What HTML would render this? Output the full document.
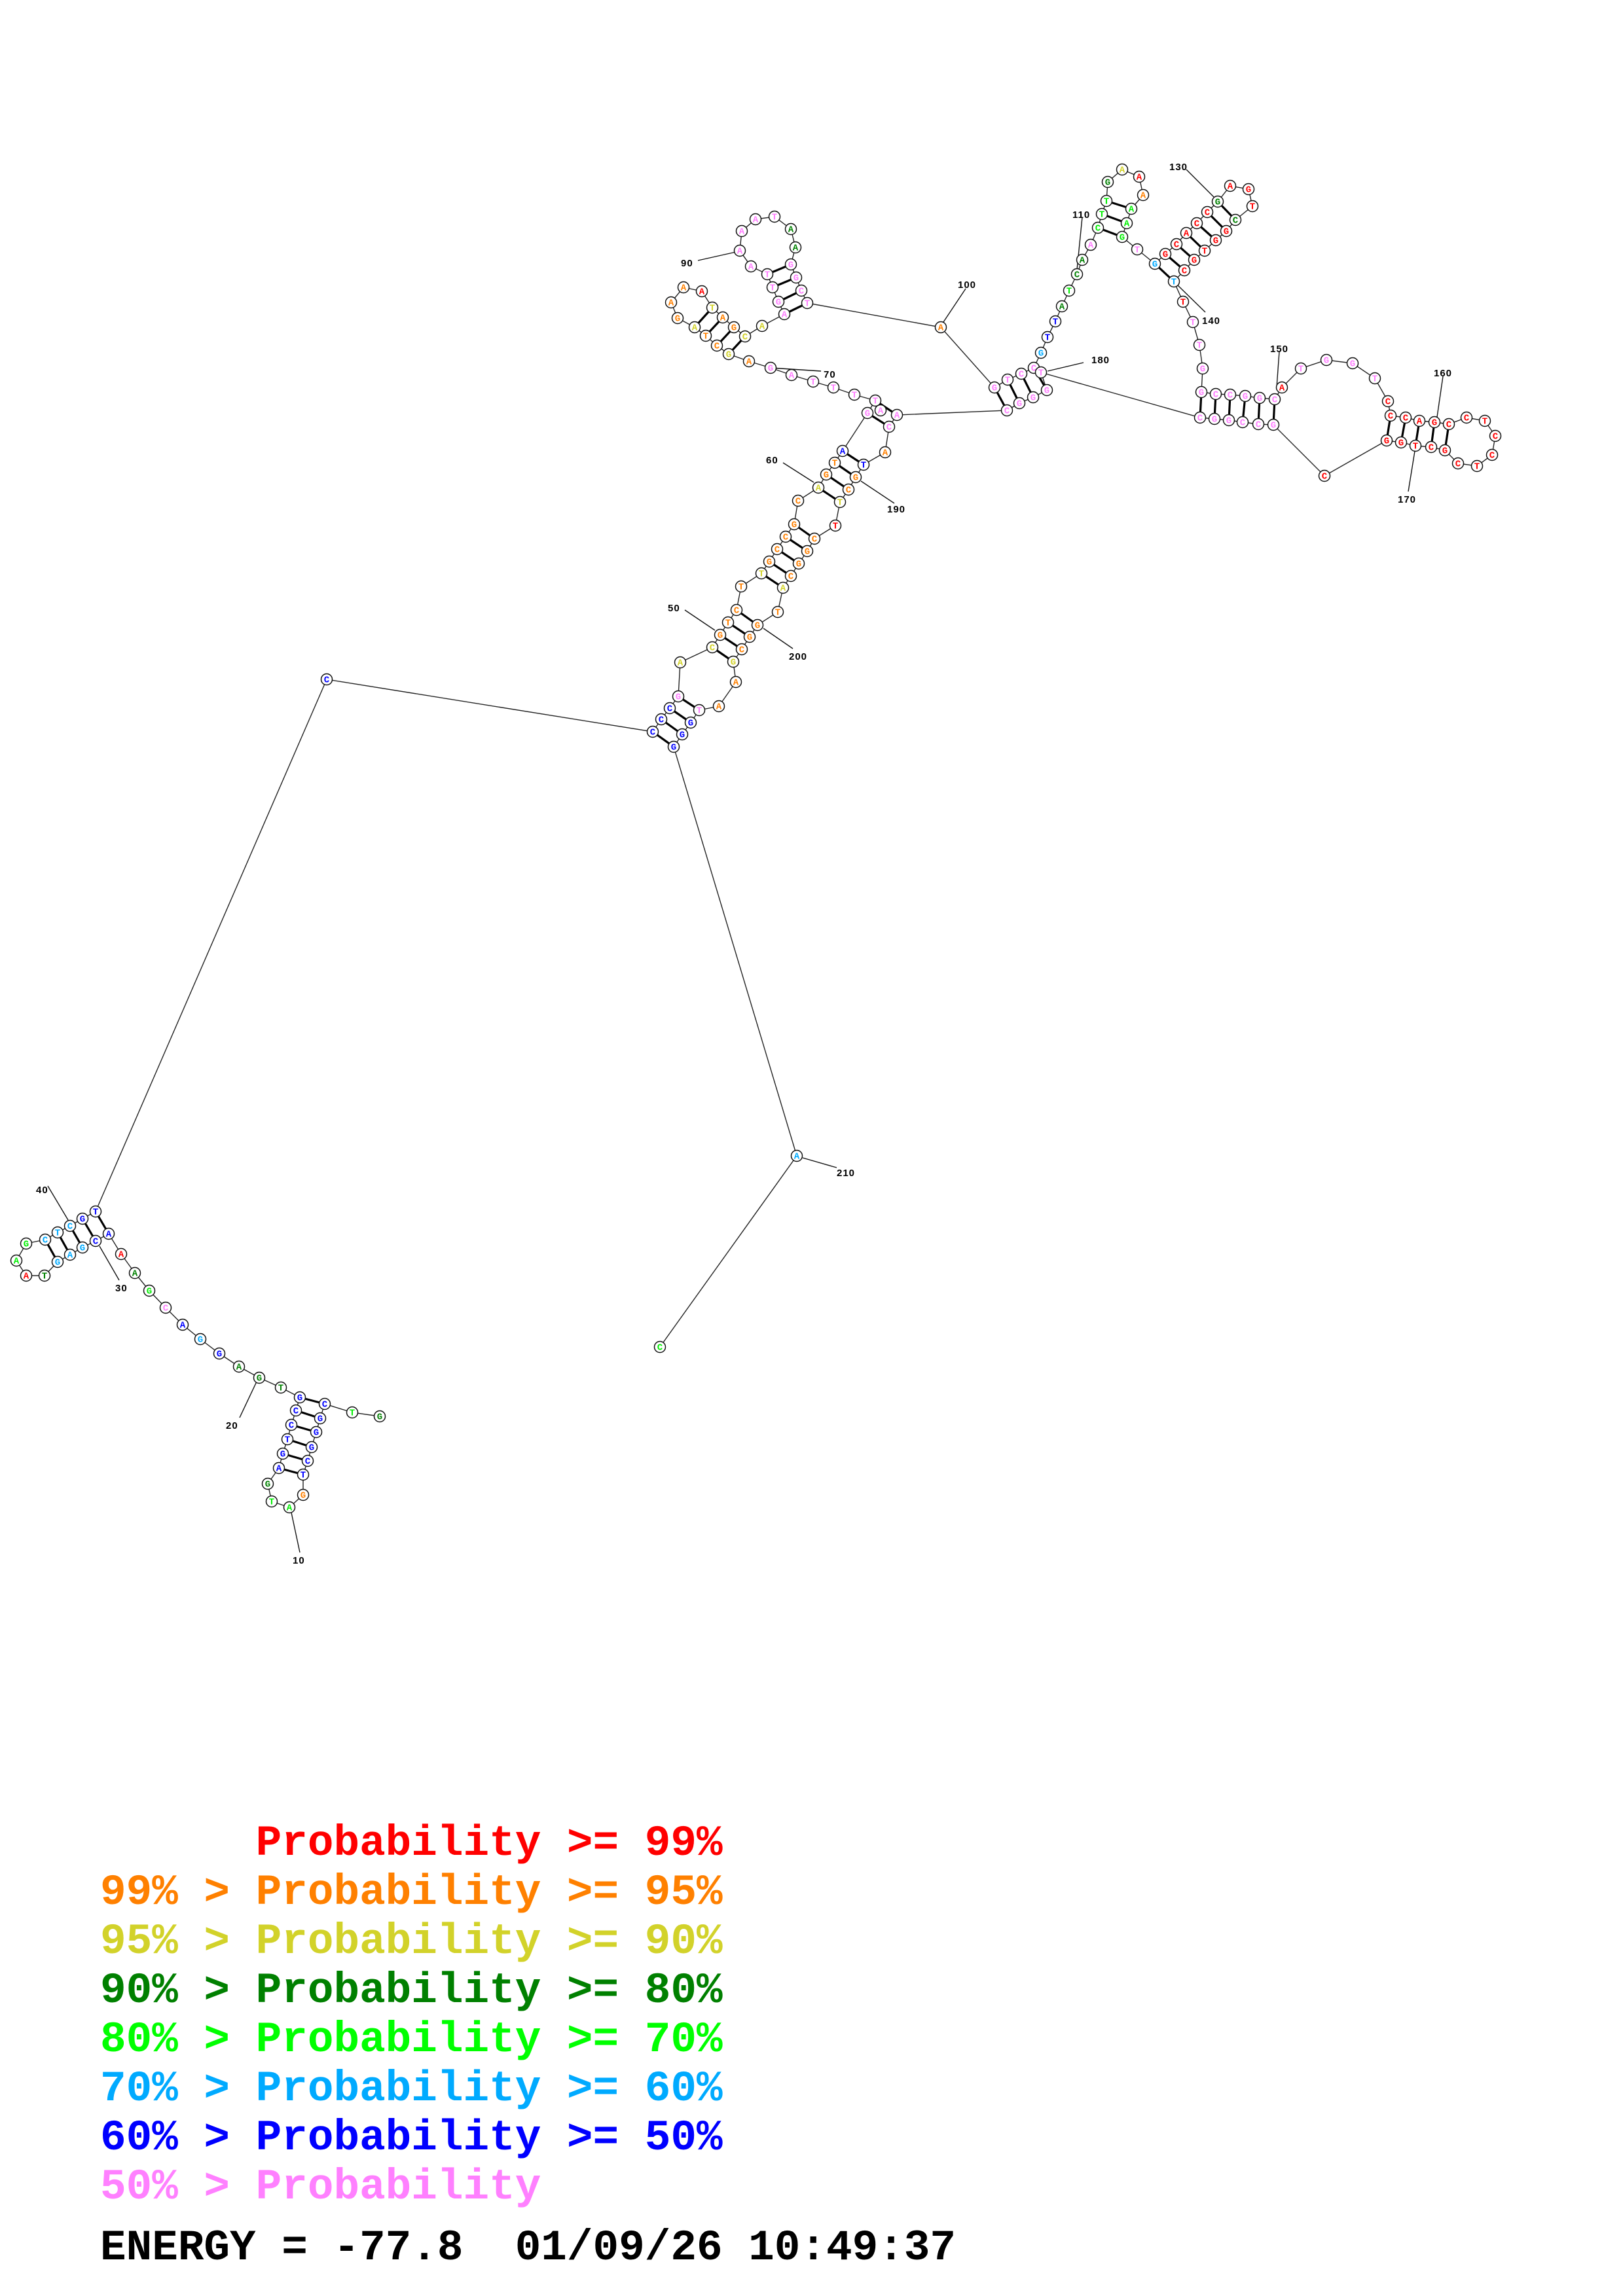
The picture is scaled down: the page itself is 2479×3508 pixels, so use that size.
<!DOCTYPE html>
<html><head><meta charset="utf-8"><style>
html,body{margin:0;padding:0;background:#fff}
svg{display:block}
.bb{fill:none;stroke:#222;stroke-width:1.4}
.pr line{stroke:#000;stroke-width:3.2}
.tk line{stroke:#111;stroke-width:1.4}
.nd circle{fill:#fff;stroke:#111;stroke-width:1.5}
.nd text{font-family:"Liberation Mono",monospace;font-weight:bold;font-size:14px;text-anchor:middle}
.lb text{font-family:"Liberation Sans",sans-serif;font-weight:bold;font-size:15px;fill:#000;letter-spacing:1px}
.R{fill:#ff0000}.O{fill:#ff8000}.Y{fill:#d2d22a}.D{fill:#008000}.G{fill:#00ee00}.C{fill:#00aaff}.B{fill:#0000ff}.P{fill:#ff80ff}
.lg{font-family:"Liberation Mono",monospace;font-weight:bold;font-size:66px;white-space:pre}
</style></head><body>
<svg width="2479" height="3508" viewBox="0 0 2479 3508" xmlns="http://www.w3.org/2000/svg">
<polyline class="bb" points="580,2164 538,2158 496,2145 489,2167 483,2188 476,2211 470,2232 463,2253 463,2284 442,2303 415,2294 409,2267 426,2243 432,2221 439,2199 445,2177 452,2155 458,2135 429,2120 396,2105 365,2088 335,2068 306,2046 279,2024 253,1998 228,1972 206,1945 185,1916 166,1885 146,1896 126,1906 107,1917 88,1928 68,1949 40,1949 25,1926 40,1900 69,1894 88,1883 107,1873 126,1862 146,1851 499,1038 997,1118 1010,1099 1023,1082 1036,1064 1039,1012 1088,989 1100,970 1112,951 1125,932 1132,896 1163,876 1175,858 1187,839 1200,820 1213,801 1219,765 1250,745 1262,725 1275,707 1287,689 1325,631 1337,612 1305,603 1273,592 1242,583 1209,573 1177,562 1144,552 1113,541 1095,528 1078,513 1061,500 1035,486 1025,462 1044,439 1072,445 1088,470 1104,485 1121,500 1138,514 1164,498 1198,480 1189,461 1180,439 1172,419 1147,407 1130,383 1133,353 1154,335 1183,331 1208,350 1215,378 1208,404 1216,424 1224,444 1233,463 1437,500 1519,592 1539,580 1560,571 1579,562 1590,539 1600,515 1612,491 1622,468 1633,444 1645,419 1653,397 1666,374 1677,348 1683,327 1690,307 1692,278 1714,259 1740,270 1746,298 1728,319 1721,341 1714,362 1737,381 1764,403 1780,388 1797,373 1812,356 1828,341 1844,324 1860,308 1879,284 1907,289 1913,315 1887,336 1873,353 1857,367 1840,383 1824,397 1809,413 1793,430 1807,461 1822,492 1832,527 1837,563 1835,599 1857,602 1879,603 1902,605 1924,608 1947,610 1958,592 1987,563 2026,550 2066,555 2100,578 2120,613 2124,635 2147,638 2168,643 2191,645 2213,648 2240,638 2268,643 2284,666 2279,695 2256,712 2227,708 2207,688 2186,683 2162,681 2140,676 2118,673 2023,727 1945,649 1922,648 1898,645 1877,642 1855,640 1833,638 1590,569 1599,596 1578,607 1557,616 1538,627 1370,634 1358,652 1352,691 1319,710 1307,729 1296,748 1283,767 1276,803 1244,823 1233,842 1220,861 1208,880 1196,898 1188,935 1157,955 1145,973 1133,992 1120,1011 1124,1042 1098,1079 1068,1085 1055,1104 1042,1122 1029,1141 1217,1766 1008,2058"/>
<g class="pr">
<line x1="458" y1="2135" x2="496" y2="2145"/><line x1="452" y1="2155" x2="489" y2="2167"/><line x1="445" y1="2177" x2="483" y2="2188"/><line x1="439" y1="2199" x2="476" y2="2211"/><line x1="432" y1="2221" x2="470" y2="2232"/><line x1="426" y1="2243" x2="463" y2="2253"/>
<line x1="146" y1="1851" x2="166" y2="1885"/><line x1="126" y1="1862" x2="146" y2="1896"/><line x1="107" y1="1873" x2="126" y2="1906"/><line x1="88" y1="1883" x2="107" y2="1917"/><line x1="69" y1="1894" x2="88" y2="1928"/>
<line x1="997" y1="1118" x2="1029" y2="1141"/><line x1="1010" y1="1099" x2="1042" y2="1122"/><line x1="1023" y1="1082" x2="1055" y2="1104"/><line x1="1036" y1="1064" x2="1068" y2="1085"/>
<line x1="1088" y1="989" x2="1120" y2="1011"/><line x1="1100" y1="970" x2="1133" y2="992"/><line x1="1112" y1="951" x2="1145" y2="973"/><line x1="1125" y1="932" x2="1157" y2="955"/>
<line x1="1163" y1="876" x2="1196" y2="898"/><line x1="1175" y1="858" x2="1208" y2="880"/><line x1="1187" y1="839" x2="1220" y2="861"/><line x1="1200" y1="820" x2="1233" y2="842"/><line x1="1213" y1="801" x2="1244" y2="823"/>
<line x1="1250" y1="745" x2="1283" y2="767"/><line x1="1262" y1="725" x2="1296" y2="748"/><line x1="1275" y1="707" x2="1307" y2="729"/><line x1="1287" y1="689" x2="1319" y2="710"/>
<line x1="1325" y1="631" x2="1358" y2="652"/><line x1="1337" y1="612" x2="1370" y2="634"/>
<line x1="1088" y1="470" x2="1061" y2="500"/><line x1="1104" y1="485" x2="1078" y2="513"/><line x1="1121" y1="500" x2="1095" y2="528"/><line x1="1138" y1="514" x2="1113" y2="541"/>
<line x1="1172" y1="419" x2="1208" y2="404"/><line x1="1180" y1="439" x2="1216" y2="424"/><line x1="1189" y1="461" x2="1224" y2="444"/><line x1="1198" y1="480" x2="1233" y2="463"/>
<line x1="1519" y1="592" x2="1538" y2="627"/><line x1="1539" y1="580" x2="1557" y2="616"/><line x1="1560" y1="571" x2="1578" y2="607"/><line x1="1579" y1="562" x2="1599" y2="596"/>
<line x1="1690" y1="307" x2="1728" y2="319"/><line x1="1683" y1="327" x2="1721" y2="341"/><line x1="1677" y1="348" x2="1714" y2="362"/>
<line x1="1764" y1="403" x2="1793" y2="430"/><line x1="1780" y1="388" x2="1809" y2="413"/><line x1="1797" y1="373" x2="1824" y2="397"/><line x1="1812" y1="356" x2="1840" y2="383"/><line x1="1828" y1="341" x2="1857" y2="367"/><line x1="1844" y1="324" x2="1873" y2="353"/><line x1="1860" y1="308" x2="1887" y2="336"/>
<line x1="1835" y1="599" x2="1833" y2="638"/><line x1="1857" y1="602" x2="1855" y2="640"/><line x1="1879" y1="603" x2="1877" y2="642"/><line x1="1902" y1="605" x2="1898" y2="645"/><line x1="1924" y1="608" x2="1922" y2="648"/><line x1="1947" y1="610" x2="1945" y2="649"/>
<line x1="2124" y1="635" x2="2118" y2="673"/><line x1="2147" y1="638" x2="2140" y2="676"/><line x1="2168" y1="643" x2="2162" y2="681"/><line x1="2191" y1="645" x2="2186" y2="683"/><line x1="2213" y1="648" x2="2207" y2="688"/>
</g>
<g class="tk">
<line x1="73" y1="1812" x2="104" y2="1864"/><line x1="152" y1="1904" x2="182" y2="1956"/><line x1="392" y1="2111" x2="366" y2="2166"/><line x1="445" y1="2311" x2="458" y2="2372"/>
<line x1="1196" y1="707" x2="1243" y2="737"/><line x1="1315" y1="735" x2="1366" y2="769"/><line x1="1046" y1="932" x2="1092" y2="963"/><line x1="1166" y1="960" x2="1211" y2="991"/>
<line x1="1177" y1="562" x2="1254" y2="567"/><line x1="1066" y1="398" x2="1124" y2="385"/><line x1="1475" y1="441" x2="1439" y2="495"/><line x1="1653" y1="332" x2="1645" y2="412"/>
<line x1="1812" y1="259" x2="1854" y2="301"/><line x1="1798" y1="435" x2="1841" y2="477"/><line x1="1600" y1="567" x2="1655" y2="554"/><line x1="1954" y1="537" x2="1950" y2="592"/>
<line x1="2204" y1="575" x2="2194" y2="644"/><line x1="2162" y1="683" x2="2151" y2="751"/><line x1="1226" y1="1769" x2="1278" y2="1784"/>
</g>
<g class="lb">
<text x="55" y="1823">40</text><text x="176" y="1973">30</text><text x="345" y="2183">20</text><text x="447" y="2389">10</text>
<text x="1170" y="708">60</text><text x="1355" y="783">190</text><text x="1020" y="934">50</text><text x="1205" y="1008">200</text>
<text x="1258" y="577">70</text><text x="1040" y="407">90</text><text x="1463" y="440">100</text><text x="1638" y="333">110</text>
<text x="1786" y="260">130</text><text x="1836" y="495">140</text><text x="1667" y="555">180</text><text x="1940" y="538">150</text>
<text x="2190" y="575">160</text><text x="2135" y="768">170</text><text x="1278" y="1797">210</text>
</g>
<g class="nd">
<circle cx="580" cy="2164" r="8.5"/><text x="580" y="2168.5" class="D">G</text>
<circle cx="538" cy="2158" r="8.5"/><text x="538" y="2162.5" class="G">T</text>
<circle cx="496" cy="2145" r="8.5"/><text x="496" y="2149.5" class="B">C</text>
<circle cx="489" cy="2167" r="8.5"/><text x="489" y="2171.5" class="B">G</text>
<circle cx="483" cy="2188" r="8.5"/><text x="483" y="2192.5" class="B">G</text>
<circle cx="476" cy="2211" r="8.5"/><text x="476" y="2215.5" class="B">G</text>
<circle cx="470" cy="2232" r="8.5"/><text x="470" y="2236.5" class="B">C</text>
<circle cx="463" cy="2253" r="8.5"/><text x="463" y="2257.5" class="B">T</text>
<circle cx="463" cy="2284" r="8.5"/><text x="463" y="2288.5" class="O">G</text>
<circle cx="442" cy="2303" r="8.5"/><text x="442" y="2307.5" class="G">A</text>
<circle cx="415" cy="2294" r="8.5"/><text x="415" y="2298.5" class="G">T</text>
<circle cx="409" cy="2267" r="8.5"/><text x="409" y="2271.5" class="D">G</text>
<circle cx="426" cy="2243" r="8.5"/><text x="426" y="2247.5" class="B">A</text>
<circle cx="432" cy="2221" r="8.5"/><text x="432" y="2225.5" class="B">G</text>
<circle cx="439" cy="2199" r="8.5"/><text x="439" y="2203.5" class="B">T</text>
<circle cx="445" cy="2177" r="8.5"/><text x="445" y="2181.5" class="B">C</text>
<circle cx="452" cy="2155" r="8.5"/><text x="452" y="2159.5" class="B">C</text>
<circle cx="458" cy="2135" r="8.5"/><text x="458" y="2139.5" class="B">G</text>
<circle cx="429" cy="2120" r="8.5"/><text x="429" y="2124.5" class="D">T</text>
<circle cx="396" cy="2105" r="8.5"/><text x="396" y="2109.5" class="D">G</text>
<circle cx="365" cy="2088" r="8.5"/><text x="365" y="2092.5" class="D">A</text>
<circle cx="335" cy="2068" r="8.5"/><text x="335" y="2072.5" class="B">G</text>
<circle cx="306" cy="2046" r="8.5"/><text x="306" y="2050.5" class="C">G</text>
<circle cx="279" cy="2024" r="8.5"/><text x="279" y="2028.5" class="B">A</text>
<circle cx="253" cy="1998" r="8.5"/><text x="253" y="2002.5" class="P">C</text>
<circle cx="228" cy="1972" r="8.5"/><text x="228" y="1976.5" class="G">G</text>
<circle cx="206" cy="1945" r="8.5"/><text x="206" y="1949.5" class="D">A</text>
<circle cx="185" cy="1916" r="8.5"/><text x="185" y="1920.5" class="R">A</text>
<circle cx="166" cy="1885" r="8.5"/><text x="166" y="1889.5" class="B">A</text>
<circle cx="146" cy="1896" r="8.5"/><text x="146" y="1900.5" class="B">C</text>
<circle cx="126" cy="1906" r="8.5"/><text x="126" y="1910.5" class="C">G</text>
<circle cx="107" cy="1917" r="8.5"/><text x="107" y="1921.5" class="C">A</text>
<circle cx="88" cy="1928" r="8.5"/><text x="88" y="1932.5" class="C">G</text>
<circle cx="68" cy="1949" r="8.5"/><text x="68" y="1953.5" class="D">T</text>
<circle cx="40" cy="1949" r="8.5"/><text x="40" y="1953.5" class="R">A</text>
<circle cx="25" cy="1926" r="8.5"/><text x="25" y="1930.5" class="G">A</text>
<circle cx="40" cy="1900" r="8.5"/><text x="40" y="1904.5" class="G">G</text>
<circle cx="69" cy="1894" r="8.5"/><text x="69" y="1898.5" class="C">C</text>
<circle cx="88" cy="1883" r="8.5"/><text x="88" y="1887.5" class="C">T</text>
<circle cx="107" cy="1873" r="8.5"/><text x="107" y="1877.5" class="C">C</text>
<circle cx="126" cy="1862" r="8.5"/><text x="126" y="1866.5" class="B">G</text>
<circle cx="146" cy="1851" r="8.5"/><text x="146" y="1855.5" class="B">T</text>
<circle cx="499" cy="1038" r="8.5"/><text x="499" y="1042.5" class="B">C</text>
<circle cx="997" cy="1118" r="8.5"/><text x="997" y="1122.5" class="B">C</text>
<circle cx="1010" cy="1099" r="8.5"/><text x="1010" y="1103.5" class="B">C</text>
<circle cx="1023" cy="1082" r="8.5"/><text x="1023" y="1086.5" class="B">C</text>
<circle cx="1036" cy="1064" r="8.5"/><text x="1036" y="1068.5" class="P">G</text>
<circle cx="1039" cy="1012" r="8.5"/><text x="1039" y="1016.5" class="Y">A</text>
<circle cx="1088" cy="989" r="8.5"/><text x="1088" y="993.5" class="Y">C</text>
<circle cx="1100" cy="970" r="8.5"/><text x="1100" y="974.5" class="O">G</text>
<circle cx="1112" cy="951" r="8.5"/><text x="1112" y="955.5" class="O">T</text>
<circle cx="1125" cy="932" r="8.5"/><text x="1125" y="936.5" class="O">C</text>
<circle cx="1132" cy="896" r="8.5"/><text x="1132" y="900.5" class="O">T</text>
<circle cx="1163" cy="876" r="8.5"/><text x="1163" y="880.5" class="Y">T</text>
<circle cx="1175" cy="858" r="8.5"/><text x="1175" y="862.5" class="O">G</text>
<circle cx="1187" cy="839" r="8.5"/><text x="1187" y="843.5" class="O">C</text>
<circle cx="1200" cy="820" r="8.5"/><text x="1200" y="824.5" class="O">C</text>
<circle cx="1213" cy="801" r="8.5"/><text x="1213" y="805.5" class="O">G</text>
<circle cx="1219" cy="765" r="8.5"/><text x="1219" y="769.5" class="O">C</text>
<circle cx="1250" cy="745" r="8.5"/><text x="1250" y="749.5" class="Y">A</text>
<circle cx="1262" cy="725" r="8.5"/><text x="1262" y="729.5" class="O">G</text>
<circle cx="1275" cy="707" r="8.5"/><text x="1275" y="711.5" class="O">T</text>
<circle cx="1287" cy="689" r="8.5"/><text x="1287" y="693.5" class="B">A</text>
<circle cx="1325" cy="631" r="8.5"/><text x="1325" y="635.5" class="P">G</text>
<circle cx="1337" cy="612" r="8.5"/><text x="1337" y="616.5" class="P">T</text>
<circle cx="1345" cy="627" r="8.5"/><text x="1345" y="631.5" class="P">A</text>
<circle cx="1305" cy="603" r="8.5"/><text x="1305" y="607.5" class="P">T</text>
<circle cx="1273" cy="592" r="8.5"/><text x="1273" y="596.5" class="P">T</text>
<circle cx="1242" cy="583" r="8.5"/><text x="1242" y="587.5" class="P">T</text>
<circle cx="1209" cy="573" r="8.5"/><text x="1209" y="577.5" class="P">A</text>
<circle cx="1177" cy="562" r="8.5"/><text x="1177" y="566.5" class="P">G</text>
<circle cx="1144" cy="552" r="8.5"/><text x="1144" y="556.5" class="O">A</text>
<circle cx="1113" cy="541" r="8.5"/><text x="1113" y="545.5" class="Y">G</text>
<circle cx="1095" cy="528" r="8.5"/><text x="1095" y="532.5" class="O">C</text>
<circle cx="1078" cy="513" r="8.5"/><text x="1078" y="517.5" class="O">T</text>
<circle cx="1061" cy="500" r="8.5"/><text x="1061" y="504.5" class="Y">A</text>
<circle cx="1035" cy="486" r="8.5"/><text x="1035" y="490.5" class="O">G</text>
<circle cx="1025" cy="462" r="8.5"/><text x="1025" y="466.5" class="O">A</text>
<circle cx="1044" cy="439" r="8.5"/><text x="1044" y="443.5" class="O">A</text>
<circle cx="1072" cy="445" r="8.5"/><text x="1072" y="449.5" class="R">A</text>
<circle cx="1088" cy="470" r="8.5"/><text x="1088" y="474.5" class="Y">T</text>
<circle cx="1104" cy="485" r="8.5"/><text x="1104" y="489.5" class="O">A</text>
<circle cx="1121" cy="500" r="8.5"/><text x="1121" y="504.5" class="O">G</text>
<circle cx="1138" cy="514" r="8.5"/><text x="1138" y="518.5" class="Y">C</text>
<circle cx="1164" cy="498" r="8.5"/><text x="1164" y="502.5" class="Y">A</text>
<circle cx="1198" cy="480" r="8.5"/><text x="1198" y="484.5" class="P">A</text>
<circle cx="1189" cy="461" r="8.5"/><text x="1189" y="465.5" class="P">G</text>
<circle cx="1180" cy="439" r="8.5"/><text x="1180" y="443.5" class="P">T</text>
<circle cx="1172" cy="419" r="8.5"/><text x="1172" y="423.5" class="P">T</text>
<circle cx="1147" cy="407" r="8.5"/><text x="1147" y="411.5" class="P">A</text>
<circle cx="1130" cy="383" r="8.5"/><text x="1130" y="387.5" class="P">A</text>
<circle cx="1133" cy="353" r="8.5"/><text x="1133" y="357.5" class="P">A</text>
<circle cx="1154" cy="335" r="8.5"/><text x="1154" y="339.5" class="P">A</text>
<circle cx="1183" cy="331" r="8.5"/><text x="1183" y="335.5" class="P">T</text>
<circle cx="1208" cy="350" r="8.5"/><text x="1208" y="354.5" class="D">A</text>
<circle cx="1215" cy="378" r="8.5"/><text x="1215" y="382.5" class="D">A</text>
<circle cx="1208" cy="404" r="8.5"/><text x="1208" y="408.5" class="P">G</text>
<circle cx="1216" cy="424" r="8.5"/><text x="1216" y="428.5" class="P">G</text>
<circle cx="1224" cy="444" r="8.5"/><text x="1224" y="448.5" class="P">C</text>
<circle cx="1233" cy="463" r="8.5"/><text x="1233" y="467.5" class="P">T</text>
<circle cx="1437" cy="500" r="8.5"/><text x="1437" y="504.5" class="O">A</text>
<circle cx="1519" cy="592" r="8.5"/><text x="1519" y="596.5" class="P">G</text>
<circle cx="1539" cy="580" r="8.5"/><text x="1539" y="584.5" class="P">T</text>
<circle cx="1560" cy="571" r="8.5"/><text x="1560" y="575.5" class="P">C</text>
<circle cx="1579" cy="562" r="8.5"/><text x="1579" y="566.5" class="P">C</text>
<circle cx="1590" cy="539" r="8.5"/><text x="1590" y="543.5" class="C">G</text>
<circle cx="1600" cy="515" r="8.5"/><text x="1600" y="519.5" class="B">T</text>
<circle cx="1612" cy="491" r="8.5"/><text x="1612" y="495.5" class="B">T</text>
<circle cx="1622" cy="468" r="8.5"/><text x="1622" y="472.5" class="D">A</text>
<circle cx="1633" cy="444" r="8.5"/><text x="1633" y="448.5" class="G">T</text>
<circle cx="1645" cy="419" r="8.5"/><text x="1645" y="423.5" class="D">C</text>
<circle cx="1653" cy="397" r="8.5"/><text x="1653" y="401.5" class="D">A</text>
<circle cx="1666" cy="374" r="8.5"/><text x="1666" y="378.5" class="P">A</text>
<circle cx="1677" cy="348" r="8.5"/><text x="1677" y="352.5" class="G">C</text>
<circle cx="1683" cy="327" r="8.5"/><text x="1683" y="331.5" class="G">T</text>
<circle cx="1690" cy="307" r="8.5"/><text x="1690" y="311.5" class="G">T</text>
<circle cx="1692" cy="278" r="8.5"/><text x="1692" y="282.5" class="D">G</text>
<circle cx="1714" cy="259" r="8.5"/><text x="1714" y="263.5" class="Y">A</text>
<circle cx="1740" cy="270" r="8.5"/><text x="1740" y="274.5" class="R">A</text>
<circle cx="1746" cy="298" r="8.5"/><text x="1746" y="302.5" class="O">A</text>
<circle cx="1728" cy="319" r="8.5"/><text x="1728" y="323.5" class="G">A</text>
<circle cx="1721" cy="341" r="8.5"/><text x="1721" y="345.5" class="G">A</text>
<circle cx="1714" cy="362" r="8.5"/><text x="1714" y="366.5" class="G">G</text>
<circle cx="1737" cy="381" r="8.5"/><text x="1737" y="385.5" class="P">T</text>
<circle cx="1764" cy="403" r="8.5"/><text x="1764" y="407.5" class="C">G</text>
<circle cx="1780" cy="388" r="8.5"/><text x="1780" y="392.5" class="R">G</text>
<circle cx="1797" cy="373" r="8.5"/><text x="1797" y="377.5" class="R">C</text>
<circle cx="1812" cy="356" r="8.5"/><text x="1812" y="360.5" class="R">A</text>
<circle cx="1828" cy="341" r="8.5"/><text x="1828" y="345.5" class="R">C</text>
<circle cx="1844" cy="324" r="8.5"/><text x="1844" y="328.5" class="R">C</text>
<circle cx="1860" cy="308" r="8.5"/><text x="1860" y="312.5" class="D">G</text>
<circle cx="1879" cy="284" r="8.5"/><text x="1879" y="288.5" class="R">A</text>
<circle cx="1907" cy="289" r="8.5"/><text x="1907" y="293.5" class="R">G</text>
<circle cx="1913" cy="315" r="8.5"/><text x="1913" y="319.5" class="R">T</text>
<circle cx="1887" cy="336" r="8.5"/><text x="1887" y="340.5" class="D">C</text>
<circle cx="1873" cy="353" r="8.5"/><text x="1873" y="357.5" class="R">G</text>
<circle cx="1857" cy="367" r="8.5"/><text x="1857" y="371.5" class="R">G</text>
<circle cx="1840" cy="383" r="8.5"/><text x="1840" y="387.5" class="R">T</text>
<circle cx="1824" cy="397" r="8.5"/><text x="1824" y="401.5" class="R">G</text>
<circle cx="1809" cy="413" r="8.5"/><text x="1809" y="417.5" class="R">C</text>
<circle cx="1793" cy="430" r="8.5"/><text x="1793" y="434.5" class="C">T</text>
<circle cx="1807" cy="461" r="8.5"/><text x="1807" y="465.5" class="R">T</text>
<circle cx="1822" cy="492" r="8.5"/><text x="1822" y="496.5" class="P">T</text>
<circle cx="1832" cy="527" r="8.5"/><text x="1832" y="531.5" class="P">T</text>
<circle cx="1837" cy="563" r="8.5"/><text x="1837" y="567.5" class="P">G</text>
<circle cx="1835" cy="599" r="8.5"/><text x="1835" y="603.5" class="P">G</text>
<circle cx="1857" cy="602" r="8.5"/><text x="1857" y="606.5" class="P">C</text>
<circle cx="1879" cy="603" r="8.5"/><text x="1879" y="607.5" class="P">C</text>
<circle cx="1902" cy="605" r="8.5"/><text x="1902" y="609.5" class="P">G</text>
<circle cx="1924" cy="608" r="8.5"/><text x="1924" y="612.5" class="P">G</text>
<circle cx="1947" cy="610" r="8.5"/><text x="1947" y="614.5" class="P">C</text>
<circle cx="1958" cy="592" r="8.5"/><text x="1958" y="596.5" class="R">A</text>
<circle cx="1987" cy="563" r="8.5"/><text x="1987" y="567.5" class="P">T</text>
<circle cx="2026" cy="550" r="8.5"/><text x="2026" y="554.5" class="P">G</text>
<circle cx="2066" cy="555" r="8.5"/><text x="2066" y="559.5" class="P">G</text>
<circle cx="2100" cy="578" r="8.5"/><text x="2100" y="582.5" class="P">T</text>
<circle cx="2120" cy="613" r="8.5"/><text x="2120" y="617.5" class="R">C</text>
<circle cx="2124" cy="635" r="8.5"/><text x="2124" y="639.5" class="R">C</text>
<circle cx="2147" cy="638" r="8.5"/><text x="2147" y="642.5" class="R">C</text>
<circle cx="2168" cy="643" r="8.5"/><text x="2168" y="647.5" class="R">A</text>
<circle cx="2191" cy="645" r="8.5"/><text x="2191" y="649.5" class="R">G</text>
<circle cx="2213" cy="648" r="8.5"/><text x="2213" y="652.5" class="R">C</text>
<circle cx="2240" cy="638" r="8.5"/><text x="2240" y="642.5" class="R">C</text>
<circle cx="2268" cy="643" r="8.5"/><text x="2268" y="647.5" class="R">T</text>
<circle cx="2284" cy="666" r="8.5"/><text x="2284" y="670.5" class="R">C</text>
<circle cx="2279" cy="695" r="8.5"/><text x="2279" y="699.5" class="R">C</text>
<circle cx="2256" cy="712" r="8.5"/><text x="2256" y="716.5" class="R">T</text>
<circle cx="2227" cy="708" r="8.5"/><text x="2227" y="712.5" class="R">C</text>
<circle cx="2207" cy="688" r="8.5"/><text x="2207" y="692.5" class="R">G</text>
<circle cx="2186" cy="683" r="8.5"/><text x="2186" y="687.5" class="R">C</text>
<circle cx="2162" cy="681" r="8.5"/><text x="2162" y="685.5" class="R">T</text>
<circle cx="2140" cy="676" r="8.5"/><text x="2140" y="680.5" class="R">G</text>
<circle cx="2118" cy="673" r="8.5"/><text x="2118" y="677.5" class="R">G</text>
<circle cx="2023" cy="727" r="8.5"/><text x="2023" y="731.5" class="R">C</text>
<circle cx="1945" cy="649" r="8.5"/><text x="1945" y="653.5" class="P">G</text>
<circle cx="1922" cy="648" r="8.5"/><text x="1922" y="652.5" class="P">C</text>
<circle cx="1898" cy="645" r="8.5"/><text x="1898" y="649.5" class="P">C</text>
<circle cx="1877" cy="642" r="8.5"/><text x="1877" y="646.5" class="P">G</text>
<circle cx="1855" cy="640" r="8.5"/><text x="1855" y="644.5" class="P">G</text>
<circle cx="1833" cy="638" r="8.5"/><text x="1833" y="642.5" class="P">C</text>
<circle cx="1590" cy="569" r="8.5"/><text x="1590" y="573.5" class="P">T</text>
<circle cx="1599" cy="596" r="8.5"/><text x="1599" y="600.5" class="P">G</text>
<circle cx="1578" cy="607" r="8.5"/><text x="1578" y="611.5" class="P">G</text>
<circle cx="1557" cy="616" r="8.5"/><text x="1557" y="620.5" class="P">G</text>
<circle cx="1538" cy="627" r="8.5"/><text x="1538" y="631.5" class="P">C</text>
<circle cx="1370" cy="634" r="8.5"/><text x="1370" y="638.5" class="P">A</text>
<circle cx="1358" cy="652" r="8.5"/><text x="1358" y="656.5" class="P">C</text>
<circle cx="1352" cy="691" r="8.5"/><text x="1352" y="695.5" class="O">A</text>
<circle cx="1319" cy="710" r="8.5"/><text x="1319" y="714.5" class="B">T</text>
<circle cx="1307" cy="729" r="8.5"/><text x="1307" y="733.5" class="O">G</text>
<circle cx="1296" cy="748" r="8.5"/><text x="1296" y="752.5" class="O">C</text>
<circle cx="1283" cy="767" r="8.5"/><text x="1283" y="771.5" class="Y">T</text>
<circle cx="1276" cy="803" r="8.5"/><text x="1276" y="807.5" class="R">T</text>
<circle cx="1244" cy="823" r="8.5"/><text x="1244" y="827.5" class="O">C</text>
<circle cx="1233" cy="842" r="8.5"/><text x="1233" y="846.5" class="O">G</text>
<circle cx="1220" cy="861" r="8.5"/><text x="1220" y="865.5" class="O">G</text>
<circle cx="1208" cy="880" r="8.5"/><text x="1208" y="884.5" class="O">C</text>
<circle cx="1196" cy="898" r="8.5"/><text x="1196" y="902.5" class="Y">A</text>
<circle cx="1188" cy="935" r="8.5"/><text x="1188" y="939.5" class="O">T</text>
<circle cx="1157" cy="955" r="8.5"/><text x="1157" y="959.5" class="O">G</text>
<circle cx="1145" cy="973" r="8.5"/><text x="1145" y="977.5" class="O">G</text>
<circle cx="1133" cy="992" r="8.5"/><text x="1133" y="996.5" class="O">C</text>
<circle cx="1120" cy="1011" r="8.5"/><text x="1120" y="1015.5" class="Y">G</text>
<circle cx="1124" cy="1042" r="8.5"/><text x="1124" y="1046.5" class="O">A</text>
<circle cx="1098" cy="1079" r="8.5"/><text x="1098" y="1083.5" class="O">A</text>
<circle cx="1068" cy="1085" r="8.5"/><text x="1068" y="1089.5" class="P">T</text>
<circle cx="1055" cy="1104" r="8.5"/><text x="1055" y="1108.5" class="B">G</text>
<circle cx="1042" cy="1122" r="8.5"/><text x="1042" y="1126.5" class="B">G</text>
<circle cx="1029" cy="1141" r="8.5"/><text x="1029" y="1145.5" class="B">G</text>
<circle cx="1217" cy="1766" r="8.5"/><text x="1217" y="1770.5" class="C">A</text>
<circle cx="1008" cy="2058" r="8.5"/><text x="1008" y="2062.5" class="G">C</text>
</g>
<text class="lg" x="153" y="2834" fill="#ff0000" xml:space="preserve">      Probability &gt;= 99%</text>
<text class="lg" x="153" y="2909" fill="#ff8000" xml:space="preserve">99% &gt; Probability &gt;= 95%</text>
<text class="lg" x="153" y="2984" fill="#d2d22a" xml:space="preserve">95% &gt; Probability &gt;= 90%</text>
<text class="lg" x="153" y="3059" fill="#008000" xml:space="preserve">90% &gt; Probability &gt;= 80%</text>
<text class="lg" x="153" y="3134" fill="#00ff00" xml:space="preserve">80% &gt; Probability &gt;= 70%</text>
<text class="lg" x="153" y="3209" fill="#00aaff" xml:space="preserve">70% &gt; Probability &gt;= 60%</text>
<text class="lg" x="153" y="3284" fill="#0000ff" xml:space="preserve">60% &gt; Probability &gt;= 50%</text>
<text class="lg" x="153" y="3359" fill="#ff80ff" xml:space="preserve">50% &gt; Probability</text>
<text class="lg" x="153" y="3452" fill="#000000" xml:space="preserve">ENERGY = -77.8  01/09/26 10:49:37</text>
</svg>
</body></html>
